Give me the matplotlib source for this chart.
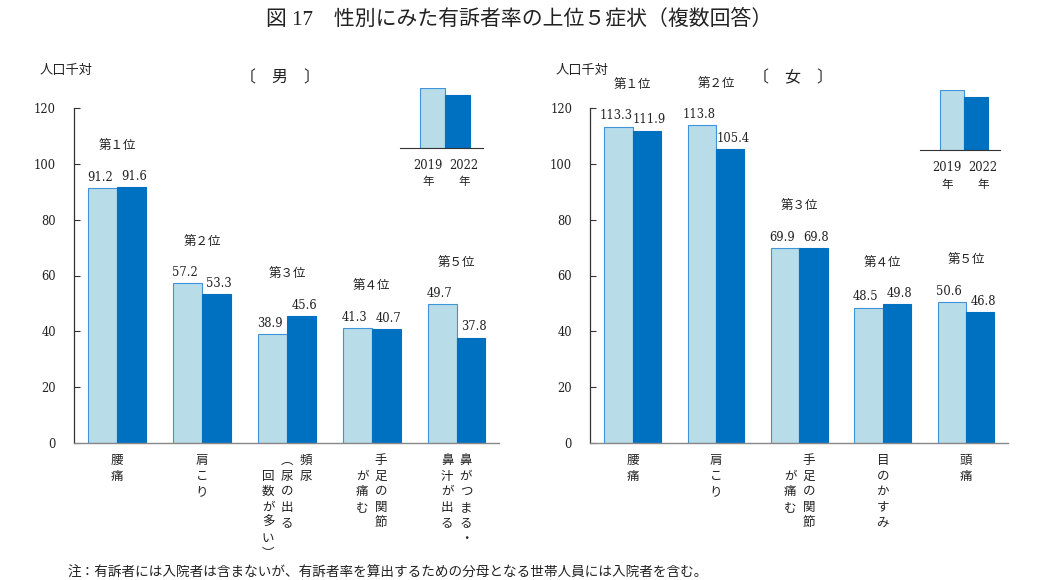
import matplotlib
matplotlib.use('Agg')
import matplotlib.pyplot as plt
from matplotlib.transforms import blended_transform_factory, offset_copy

JP = ['Noto Sans CJK JP', 'DejaVu Sans']
SJ = ['DejaVu Serif', 'Noto Sans CJK JP', 'DejaVu Sans']

years = ['2019', '2022']
ranks = ['第１位', '第２位', '第３位', '第４位', '第５位']

male_categories = [['腰痛'], ['肩こり'], ['頻尿', '︵尿の出る', '　回数が多い︶'],
                   ['手足の関節', '　が痛む'], ['鼻がつまる・', '鼻汁が出る']]
male_2019 = [91.2, 57.2, 38.9, 41.3, 49.7]
male_2022 = [91.6, 53.3, 45.6, 40.7, 37.8]

female_categories = [['腰痛'], ['肩こり'], ['手足の関節', '　が痛む'], ['目のかすみ'], ['頭痛']]
female_2019 = [113.3, 113.8, 69.9, 48.5, 50.6]
female_2022 = [111.9, 105.4, 69.8, 49.8, 46.8]

yticks = [0, 20, 40, 60, 80, 100, 120]
legend_swatch = [1.0, 0.88]

LIGHT = '#b8dde9'
LIGHT_EDGE = '#3f93d9'
DARK = '#0070c0'

fig = plt.figure(figsize=(10.39, 5.8), dpi=100)
fig.patch.set_facecolor('white')

def panel(rect, cats, v19, v22, sex, ins_rect, ins_xlim):
    ax = fig.add_axes(rect)
    x = list(range(len(cats)))
    w = 0.34
    b1 = ax.bar([i - w / 2 for i in x], v19, width=w, color=LIGHT,
                edgecolor=LIGHT_EDGE, linewidth=0.8, zorder=2)
    b2 = ax.bar([i + w / 2 for i in x], v22, width=w, color=DARK,
                edgecolor=DARK, linewidth=0.8, zorder=2)
    ax.set_xlim(-0.51, len(cats) - 0.5)
    ax.set_ylim(0, 120)
    ax.set_yticks(yticks)
    ax.set_yticklabels([str(t) for t in yticks], family=SJ, fontsize=8.3, color='#222')
    ax.set_xticks([])
    ax.tick_params(axis='y', direction='in', length=4, width=0.8, pad=13, color='#333')
    for s in ['top', 'right']:
        ax.spines[s].set_visible(False)
    ax.spines['left'].set_color('#333')
    ax.spines['left'].set_linewidth(0.9)
    ax.spines['bottom'].set_color('#888')
    ax.spines['bottom'].set_linewidth(1.0)
    # value labels
    for bars, vals, dx in ((b1, v19, -2), (b2, v22, 2)):
        for r, v in zip(bars, vals):
            ax.annotate(f'{v:.1f}', (r.get_x() + r.get_width() / 2, v),
                        xytext=(dx, 3), textcoords='offset points',
                        ha='center', va='bottom', family=SJ, fontsize=8.3,
                        color='#222', annotation_clip=False)
    # rank labels
    for i in x:
        top = max(v19[i], v22[i])
        ax.text(i, top + 15, ranks[i], ha='center', va='center', family=JP,
                fontsize=9, color='#222', clip_on=False)
    # category labels (vertical writing, columns right to left)
    trans = blended_transform_factory(ax.transData, ax.transAxes)
    colgap = 13.5
    for i, cols in enumerate(cats):
        n = len(cols)
        for j, col in enumerate(cols):
            dx = ((n - 1) / 2 - j) * colgap
            t = offset_copy(trans, fig=fig, x=dx, y=-8, units='points')
            ax.text(i, 0, '\n'.join(col), transform=t, ha='center', va='top',
                    family=JP, fontsize=9, linespacing=1.25, color='#222')
    ax.text(-0.082, 1.113, '人口千対', transform=ax.transAxes, family=JP,
            fontsize=9.5, ha='left', va='center', color='#222')
    ax.text(0.485, 1.09, '〔　男　〕' if sex == '男' else '〔　女　〕',
            transform=ax.transAxes, family=JP,
            fontsize=11.5, ha='center', va='center', color='#222')
    # inset legend
    ai = fig.add_axes(ins_rect)
    ai.bar([0, 1], legend_swatch, width=1.0, color=[LIGHT, DARK],
           edgecolor=[LIGHT_EDGE, DARK], linewidth=0.8)
    ai.set_xlim(*ins_xlim)
    ai.set_ylim(0, 1)
    ai.set_xticks([]); ai.set_yticks([])
    for s in ['top', 'right', 'left']:
        ai.spines[s].set_visible(False)
    ai.spines['bottom'].set_color('#333')
    ai.patch.set_alpha(0)
    ai.text(0.42, -0.18, f'{years[0]}\n年', ha='right', va='top', family=SJ,
            multialignment='center', fontsize=8.3, linespacing=1.35, color='#222')
    ai.text(0.68, -0.18, f'{years[1]}\n年', ha='left', va='top', family=SJ,
            multialignment='center', fontsize=8.3, linespacing=1.35, color='#222')
    return ax

panel([0.0712, 0.236, 0.409, 0.578], male_categories, male_2019, male_2022, '男',
      [0.385, 0.745, 0.080, 0.1034], (-1.3, 2.02))
panel([0.568, 0.236, 0.402, 0.578], female_categories, female_2019, female_2022, '女',
      [0.8855, 0.741, 0.077, 0.1034], (-1.33, 2.0))

fig.text(0.5, 1 - 20 / 580, '図 17　性別にみた有訴者率の上位５症状（複数回答）',
         ha='center', va='center', family=['Liberation Serif', 'Noto Sans CJK JP'],
         fontsize=15, color='#222')
fig.text(68 / 1039, 1 - 573 / 580,
         '注：有訴者には入院者は含まないが、有訴者率を算出するための分母となる世帯人員には入院者を含む。',
         ha='left', va='center', family=JP, fontsize=9.8, color='#222')

fig.savefig('out.png', dpi=100, facecolor='white')
